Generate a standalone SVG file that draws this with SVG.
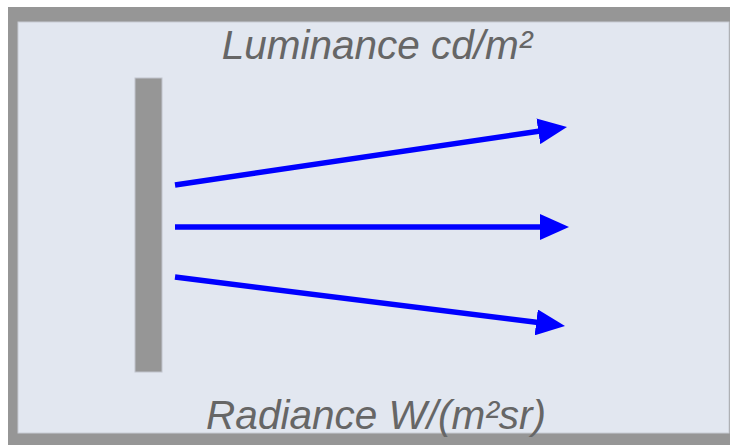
<svg xmlns="http://www.w3.org/2000/svg" width="730" height="445" viewBox="0 0 730 445">
<style>
.lbl{font-family:"Liberation Sans",Arial,sans-serif;font-style:italic;font-size:40.5px;fill:#666;text-anchor:middle}
.ray{stroke:#0000ff;stroke-width:5.5;fill:none}
</style>
<defs>
<marker id="ah" markerUnits="userSpaceOnUse" markerWidth="30" markerHeight="26" refX="2" refY="13" orient="auto" viewBox="0 0 30 26">
<path d="M0,0 L29,13 L0,26 Z" fill="#0000ff"/>
</marker>
</defs>
<rect x="0" y="0" width="730" height="445" fill="#fff"/>
<rect x="8" y="7" width="722" height="438" fill="#969696"/>
<rect x="18" y="22" width="711" height="411" fill="#e2e7f0" stroke="#c8ccd4" stroke-width="1"/>
<g id="surface">
<rect x="135" y="78" width="27" height="294" fill="#969696" stroke="#c0c4cc" stroke-width="1"/>
</g>
<g id="connectors">
<line class="ray" x1="175" y1="185" x2="540.3" y2="131" marker-end="url(#ah)"/>
<line class="ray" x1="175" y1="227" x2="542" y2="227" marker-end="url(#ah)"/>
<line class="ray" x1="175" y1="277" x2="538.2" y2="322.6" marker-end="url(#ah)"/>
</g>
<g id="label-top"><text class="lbl" x="377" y="59">Luminance cd/m²</text></g>
<g id="label-bottom"><text class="lbl" x="376" y="429">Radiance W/(m²sr)</text></g>
</svg>
